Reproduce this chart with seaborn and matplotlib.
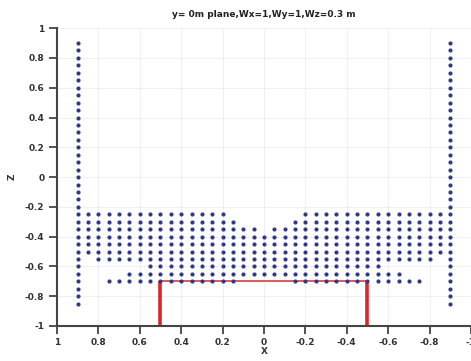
import numpy as np
import pandas as pd
import seaborn as sns
import matplotlib
matplotlib.use('Agg')
import matplotlib.pyplot as plt

# column positions of the point grid (x) and row heights (z)
grid_x = [0.85, 0.80, 0.75, 0.70, 0.65, 0.60, 0.55, 0.50, 0.45, 0.40, 0.35, 0.30,
          0.25, 0.20, 0.15, 0.10, 0.05, 0.00, -0.05, -0.10, -0.15, -0.20, -0.25,
          -0.30, -0.35, -0.40, -0.45, -0.50, -0.55, -0.60, -0.65, -0.70, -0.75,
          -0.80, -0.85]
grid_z = [-0.25, -0.30, -0.35, -0.40, -0.45, -0.50, -0.55, -0.60, -0.65, -0.70]
# which grid points are present, one string per row ('#' = point)
row_masks = [
    "##############.......##############",
    "###############.....###############",
    "#################.#################",
    "###################################",
    "###################################",
    "###################################",
    ".#################################.",
    "......#######################......",
    "....###########################....",
    "..#############.....#############..",
]
# the two side columns
side_x = [0.9, -0.9]
side_z = [0.90, 0.85, 0.80, 0.75, 0.70, 0.65, 0.60, 0.55, 0.50, 0.45, 0.40, 0.35,
          0.30, 0.25, 0.20, 0.15, 0.10, 0.05, 0.00, -0.05, -0.10, -0.15, -0.20,
          -0.25, -0.30, -0.35, -0.40, -0.45, -0.50, -0.55, -0.60, -0.65, -0.70,
          -0.75, -0.80, -0.85]
# red box
box_x = [0.5, 0.5, -0.5, -0.5]
box_z = [-1.0, -0.7, -0.7, -1.0]

xticks = [1, 0.8, 0.6, 0.4, 0.2, 0, -0.2, -0.4, -0.6, -0.8, -1]
xticklabels = ['1', '0.8', '0.6', '0.4', '0.2', '0', '-0.2', '-0.4', '-0.6', '-0.8', '-1']
yticks = [1, 0.8, 0.6, 0.4, 0.2, 0, -0.2, -0.4, -0.6, -0.8, -1]
yticklabels = ['1', '0.8', '0.6', '0.4', '0.2', '0', '-0.2', '-0.4', '-0.6', '-0.8', '-1']

pts = []
for z, mask in zip(grid_z, row_masks):
    for x, c in zip(grid_x, mask):
        if c == '#':
            pts.append((x, z))
for x in side_x:
    for z in side_z:
        pts.append((x, z))
df = pd.DataFrame(pts, columns=['X', 'Z'])

sns.set_style('white')
plt.rcParams['font.family'] = ['DejaVu Sans']

fig = plt.figure(figsize=(4.71, 3.61), dpi=100)
ax = fig.add_axes([0.121, 0.097, 0.879, 0.825])

ax.set_xticks(xticks)
ax.set_yticks(yticks)
ax.grid(True, color='#ececf2', lw=0.6)

# red box: thick sides, thinner top
ax.plot(box_x[:2], box_z[:2], color='#d9262b', lw=2.6, zorder=2, solid_capstyle='butt')
ax.plot(box_x[2:], box_z[2:], color='#d9262b', lw=2.6, zorder=2, solid_capstyle='butt')
ax.plot(box_x[1:3], box_z[1:3], color='#e0585c', lw=1.4, zorder=2)

sns.scatterplot(data=df, x='X', y='Z', ax=ax, color='#2e3a8a', s=9,
                linewidth=0, zorder=3, legend=False)

ax.set_xlim(1.0, -1.0)
ax.set_ylim(-1.0, 1.0)
ax.set_xticklabels(xticklabels)
ax.set_yticklabels(yticklabels)
ax.tick_params(axis='both', direction='out', length=6, width=1.3, color='#444444',
               labelsize=6.5, pad=3, left=True, bottom=True)
for lab in ax.get_xticklabels() + ax.get_yticklabels():
    lab.set_fontweight('bold')
    lab.set_color('#333333')
for side in ['top', 'right']:
    ax.spines[side].set_visible(False)
for side in ['left', 'bottom']:
    ax.spines[side].set_color('#444444')
    ax.spines[side].set_linewidth(1.5)

ax.set_xlabel('X', fontsize=6.5, fontweight='bold', color='#333333', labelpad=0)
ax.set_ylabel('Z', fontsize=6.5, fontweight='bold', color='#333333', labelpad=6)
ax.set_title('y= 0m plane,Wx=1,Wy=1,Wz=0.3 m', fontsize=6.5, fontweight='bold',
             color='#222222', pad=8)

fig.savefig('out.png', dpi=100)
